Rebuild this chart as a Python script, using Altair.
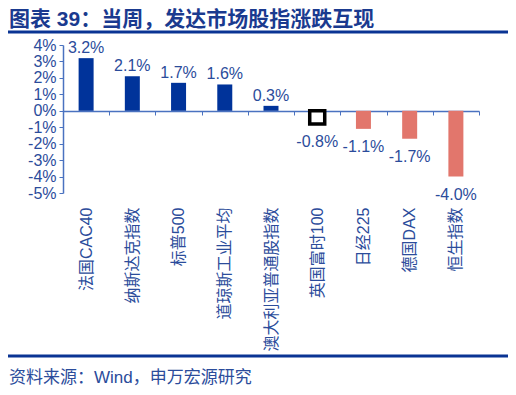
import altair as alt
import pandas as pd

categories = ["法国CAC40", "纳斯达克指数", "标普500", "道琼斯工业平均", "澳大利亚普通股指数",
              "英国富时100", "日经225", "德国DAX", "恒生指数"]
changes = [3.2, 2.1, 1.7, 1.6, 0.3, -0.8, -1.1, -1.7, -4.0]
y_ticks = [4, 3, 2, 1, 0, -1, -2, -3, -4, -5]
boxed = ["英国富时100"]
title_text = "图表 39：当周，发达市场股指涨跌互现"
source_text = "资料来源：Wind，申万宏源研究"

FONT = "Liberation Sans, Arial, Noto Sans CJK SC"
AXIS_BLUE = "#4A72C0"
TEXT_BLUE = "#2B4C9B"
DARK_BLUE = "#0A3494"

df = pd.DataFrame({"cat": categories, "v": changes})
df["label"] = [f"{v:.1f}%" for v in changes]
df["kind"] = ["box" if c in boxed else ("pos" if v > 0 else "neg") for c, v in zip(categories, changes)]

x_enc = alt.X("cat:N", sort=categories, title=None,
              scale=alt.Scale(paddingInner=0, paddingOuter=0),
              axis=alt.Axis(orient="bottom", offset=-82, labelAngle=-90, labelPadding=92,
                            labelFont=FONT, labelFontSize=16, labelColor=TEXT_BLUE,
                            domainColor=AXIS_BLUE, domainWidth=1.5,
                            tickColor=AXIS_BLUE, tickSize=4, tickBand="extent",
                            labelLimit=300))
y_enc = alt.Y("v:Q", title=None,
              scale=alt.Scale(domain=[-5, 4], nice=False, zero=False),
              axis=alt.Axis(values=y_ticks, labelExpr="datum.value + '%'", grid=False,
                            labelFont=FONT, labelFontSize=16, labelColor=TEXT_BLUE,
                            domainColor=AXIS_BLUE, domainWidth=1.5,
                            tickColor=AXIS_BLUE, tickSize=4, labelPadding=3))

base = alt.Chart(df)

bars = base.transform_filter("datum.kind != 'box'").mark_bar(size=15).encode(
    x=x_enc, y=y_enc,
    color=alt.Color("kind:N", scale=alt.Scale(domain=["pos", "neg"], range=["#00339A", "#E2766C"]),
                    legend=None))

box = base.transform_filter("datum.kind == 'box'").mark_bar(
    size=15, fill="white", stroke="black", strokeWidth=3.5).encode(x=x_enc, y=y_enc)

pos_labels = base.transform_filter("datum.v > 0").mark_text(
    baseline="bottom", dy=-2, font=FONT, fontSize=16, color=TEXT_BLUE).encode(
    x=x_enc, y=y_enc, text="label:N")
neg_labels = base.transform_filter("datum.v < 0").mark_text(
    baseline="top", dy=10, font=FONT, fontSize=16, color=TEXT_BLUE).encode(
    x=x_enc, y=y_enc, text="label:N")

one = alt.Data(values=[{}])
top_line = alt.Chart(one).mark_rule(color=DARK_BLUE, strokeWidth=3).encode(
    x=alt.value(-55), x2=alt.value(445), y=alt.value(-13))
bottom_line = alt.Chart(one).mark_rule(color=DARK_BLUE, strokeWidth=3).encode(
    x=alt.value(-55), x2=alt.value(445), y=alt.value(311))
title = alt.Chart(one).mark_text(
    text=title_text, align="left", baseline="middle", font=FONT, fontSize=21,
    fontWeight="bold", color="#1A3A8F").encode(x=alt.value(-54), y=alt.value(-25))
source = alt.Chart(one).mark_text(
    text=source_text, align="left", baseline="middle", font=FONT, fontSize=17,
    color=TEXT_BLUE).encode(x=alt.value(-54), y=alt.value(333))

chart = alt.layer(bars, box, pos_labels, neg_labels, top_line, bottom_line, title, source).properties(
    width=416, height=148,
    padding={"left": 55, "top": 37, "right": 29, "bottom": 194},
    autosize=alt.AutoSizeParams(type="none"),
    background="white",
).configure_view(stroke=None)

chart.save("out.html", embed_options={"renderer": "svg", "actions": False})
